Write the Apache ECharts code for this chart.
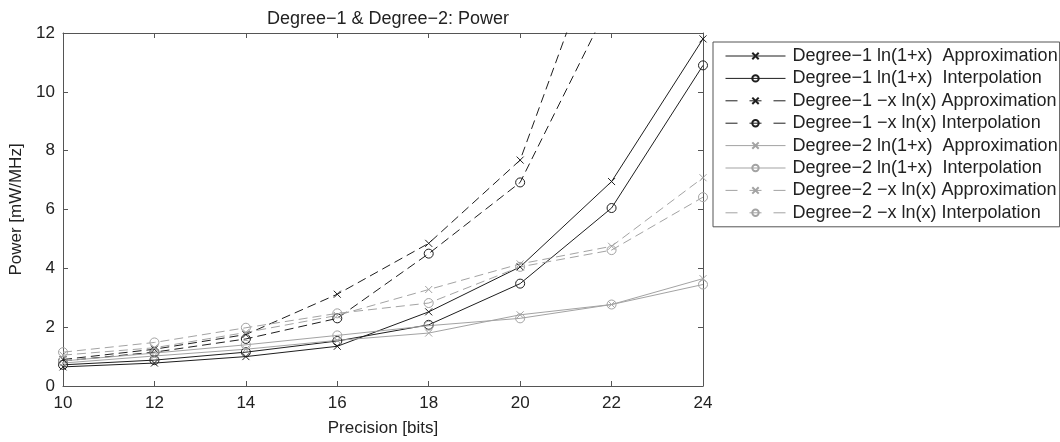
<!DOCTYPE html>
<html>
<head>
<meta charset="utf-8">
<script src="https://cdn.jsdelivr.net/npm/echarts@6/dist/echarts.min.js"></script>
<style>
html,body{margin:0;padding:0;background:#fff;}
#chart{width:1060px;height:442px;}
</style>
</head>
<body>
<div id="chart"></div>
<script>
const precision = [10, 12, 14, 16, 18, 20, 22, 24];
const xTicks = [10, 12, 14, 16, 18, 20, 22, 24];
const yTicks = [0, 2, 4, 6, 8, 10, 12];

const d1LnApprox   = [0.65, 0.78, 1.00, 1.35, 2.52, 4.05, 6.95, 11.80];
const d1LnInterp   = [0.72, 0.88, 1.15, 1.53, 2.08, 3.48, 6.05, 10.90];
const d1XlnApprox  = [0.90, 1.25, 1.75, 3.12, 4.85, 7.68, 16.20, 30.00];
const d1XlnInterp  = [0.85, 1.15, 1.60, 2.30, 4.50, 6.92, 13.15, 24.00];
const d2LnApprox   = [0.78, 1.02, 1.25, 1.55, 1.80, 2.42, 2.77, 3.65];
const d2LnInterp   = [0.85, 1.12, 1.40, 1.72, 2.05, 2.30, 2.77, 3.45];
const d2XlnApprox  = [1.05, 1.30, 1.82, 2.40, 3.28, 4.15, 4.75, 7.08];
const d2XlnInterp  = [1.15, 1.48, 1.98, 2.47, 2.82, 4.05, 4.62, 6.42];

const names = [
  'Degree\u22121 ln(1+x)  Approximation',
  'Degree\u22121 ln(1+x)  Interpolation',
  'Degree\u22121 \u2212x ln(x) Approximation',
  'Degree\u22121 \u2212x ln(x) Interpolation',
  'Degree\u22122 ln(1+x)  Approximation',
  'Degree\u22122 ln(1+x)  Interpolation',
  'Degree\u22122 \u2212x ln(x) Approximation',
  'Degree\u22122 \u2212x ln(x) Interpolation'
];
const values = [d1LnApprox, d1LnInterp, d1XlnApprox, d1XlnInterp, d2LnApprox, d2LnInterp, d2XlnApprox, d2XlnInterp];

const FONT = "'Liberation Sans', Arial, Helvetica, sans-serif";
const BLACK = '#1e1e1e';
const GRAY = '#a3a3a3';
const X_SYMBOL = 'path://M0,0L10,10M10,0L0,10';

function seriesColor(i) { return i < 4 ? BLACK : GRAY; }
function isDashed(i) { return (i % 4) >= 2; }

const series = values.map((vals, i) => {
  const color = seriesColor(i);
  const dashed = isDashed(i);
  const isX = (i % 2) === 0;
  return {
    name: names[i],
    type: 'line',
    xAxisIndex: 0,
    yAxisIndex: 0,
    data: precision.map((p, k) => [p, vals[k]]),
    symbol: isX ? X_SYMBOL : 'circle',
    symbolSize: isX ? 7 : 9,
    showAllSymbol: true,
    clip: true,
    animation: false,
    lineStyle: { color: color, width: 1, type: dashed ? [9, 5] : 'solid' },
    itemStyle: { color: 'transparent', borderColor: color, borderWidth: 1 },
    emphasis: { disabled: true }
  };
});

const legendData = names.map((n, i) => ({
  name: n,
  lineStyle: { color: seriesColor(i), width: 1, type: isDashed(i) ? [12, 12] : 'solid' }
}));

const axisLineStyle = { color: '#555', width: 1 };
const tickStyle = { show: true, inside: true, length: 5, lineStyle: axisLineStyle };

const option = {
  backgroundColor: '#fff',
  animation: false,
  title: {
    text: 'Degree\u22121 & Degree\u22122: Power',
    left: 383,
    textAlign: 'center',
    top: 5,
    textStyle: { fontFamily: FONT, fontSize: 18, fontWeight: 'normal', color: '#222' }
  },
  grid: { left: 63, right: 357, top: 33, bottom: 54, show: false },
  legend: {
    orient: 'vertical',
    left: 713,
    top: 42,
    itemWidth: 60,
    itemHeight: 8,
    itemGap: 4.4,
    padding: [5, 2, 5, 12],
    borderColor: '#555',
    borderWidth: 1,
    backgroundColor: '#fff',
    selectedMode: false,
    textStyle: { fontFamily: FONT, fontSize: 18, lineHeight: 18, color: '#222', padding: [0, 0, 0, 2] },
    data: legendData
  },
  xAxis: [
    {
      type: 'value', min: 10, max: 24, interval: 2, position: 'bottom',
      name: 'Precision [bits]', nameLocation: 'middle', nameGap: 34,
      nameTextStyle: { fontFamily: FONT, fontSize: 17, color: '#222' },
      axisLine: { show: true, onZero: false, lineStyle: axisLineStyle },
      axisTick: tickStyle,
      axisLabel: { fontFamily: FONT, fontSize: 17, color: '#222', margin: 9,
        formatter: v => xTicks.includes(v) ? String(v) : '' },
      splitLine: { show: false }
    },
    {
      type: 'value', min: 10, max: 24, interval: 2, position: 'top',
      axisLine: { show: true, onZero: false, lineStyle: axisLineStyle },
      axisTick: tickStyle,
      axisLabel: { show: false },
      splitLine: { show: false }
    }
  ],
  yAxis: [
    {
      type: 'value', min: 0, max: 12, interval: 2, position: 'left',
      name: 'Power [mW/MHz]', nameLocation: 'middle', nameGap: 37,
      nameTextStyle: { fontFamily: FONT, fontSize: 17, color: '#222' },
      axisLine: { show: true, onZero: false, lineStyle: axisLineStyle },
      axisTick: tickStyle,
      axisLabel: { fontFamily: FONT, fontSize: 17, color: '#222', margin: 8,
        formatter: v => yTicks.includes(v) ? String(v) : '' },
      splitLine: { show: false }
    },
    {
      type: 'value', min: 0, max: 12, interval: 2, position: 'right',
      axisLine: { show: true, onZero: false, lineStyle: axisLineStyle },
      axisTick: tickStyle,
      axisLabel: { show: false },
      splitLine: { show: false }
    }
  ],
  series: series
};

const chart = echarts.init(document.getElementById('chart'), null, { renderer: 'canvas' });
chart.setOption(option);
</script>
</body>
</html>
